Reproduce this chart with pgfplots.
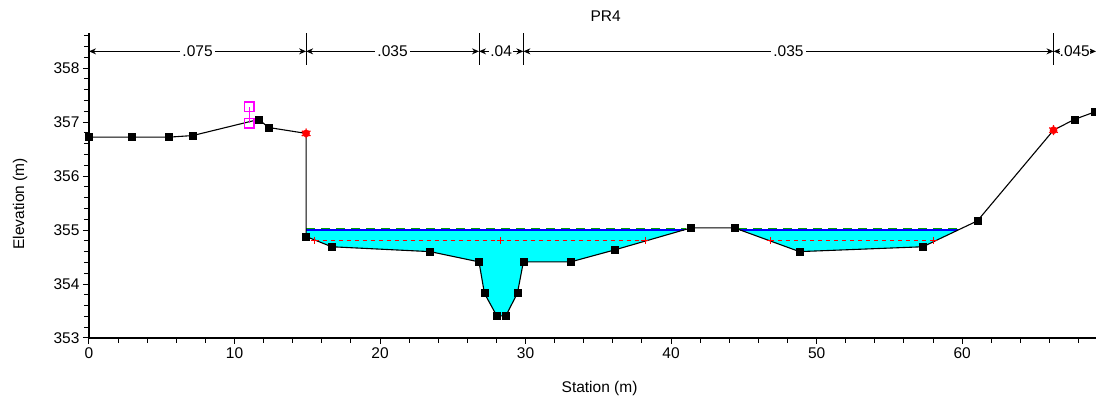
\documentclass[border=0pt]{standalone}
\usepackage{pgfplots}
\pgfplotsset{compat=1.18}
\usepackage{fontspec}
\setmainfont{Liberation Sans}
\usetikzlibrary{plotmarks,arrows.meta}
\definecolor{wscyan}{HTML}{00FFFF}
\definecolor{egreen}{HTML}{00A000}
\definecolor{levee}{HTML}{FF00FF}
\begin{document}
\begin{tikzpicture}[x=1pt,y=1pt]
\useasboundingbox (-89,-63) rectangle (1007,338);
\begin{axis}[
  scale only axis, width=1007pt, height=305pt,
  xmin=0, xmax=69.2, ymin=353, ymax=358.65,
  axis lines*=left,
  axis line style={line width=1.1pt, black},
  tick align=outside,
  xtick={0,10,20,30,40,50,60}, ytick={353,354,355,356,357,358},
  minor xtick={2,4,6,8,12,14,16,18,22,24,26,28,32,34,36,38,42,44,46,48,52,54,56,58,62,64,66,68},
  minor ytick={353.2,353.4,353.6,353.8,354.2,354.4,354.6,354.8,355.2,355.4,355.6,355.8,356.2,356.4,356.6,356.8,357.2,357.4,357.6,357.8,358.2,358.4,358.6},
  major tick length=6pt, minor tick length=5pt,
  every tick/.style={black, line width=1pt},
  font=\fontsize{15.5}{18}\selectfont,
  /pgf/number format/assume math mode=true,
  /pgf/number format/set thousands separator={},
  xlabel={Station (m)}, ylabel={Elevation (m)}, title={PR4},
  title style={at={(axis description cs:0.513,1.037)}, anchor=center, inner sep=0pt},
  xlabel style={at={(axis description cs:0.507,-0.164)}, anchor=center, inner sep=0pt},
  ylabel style={at={(axis description cs:-0.0685,0.44)}, anchor=center, inner sep=0pt},
  clip=false,
]
% water (WS) fill, left pool
\addplot[fill=wscyan, draw=none] coordinates {
  (14.92,355.0) (40.86,355.0) (36.1,354.63) (33.1,354.41) (29.85,354.41)
  (29.44,353.83) (28.64,353.41) (28.02,353.41) (27.17,353.83) (26.8,354.41)
  (23.44,354.60) (16.68,354.69) (14.92,354.88) } -- cycle;
% water fill, right pool
\addplot[fill=wscyan, draw=none] coordinates {
  (44.76,355.0) (59.72,355.0) (57.3,354.69) (48.82,354.60) } -- cycle;
% critical WS (red dashed)
\addplot[red, line width=0.8pt, dash pattern=on 4pt off 4pt] coordinates {(15.5,354.81) (38.2,354.81)};
\addplot[red, line width=0.8pt, dash pattern=on 4pt off 4pt] coordinates {(46.8,354.81) (58.0,354.81)};
\addplot[only marks, red, mark=+, mark size=3.5pt, line width=0.8pt] coordinates {(15.5,354.81) (28.3,354.81) (38.2,354.81) (46.8,354.81) (58.0,354.81)};
% WS (blue)
\addplot[blue, line width=1.4pt] coordinates {(14.92,355.0) (40.86,355.0)};
\addplot[blue, line width=1.4pt] coordinates {(44.76,355.0) (59.72,355.0)};
% EG (green dashed)
\addplot[egreen, line width=1.2pt, dash pattern=on 9pt off 6pt] coordinates {(14.92,355.035) (41.0,355.035)};
\addplot[egreen, line width=1.2pt, dash pattern=on 9pt off 6pt] coordinates {(44.6,355.035) (59.9,355.035)};
% ground
\addplot[black, line width=1.1pt] coordinates {
  (0,356.72) (2.93,356.72) (5.45,356.72) (7.13,356.75) (11.68,357.05) (12.32,356.90)
  (14.92,356.79) (14.92,354.88) (16.68,354.69) (23.44,354.60) (26.8,354.41)
  (27.17,353.83) (28.02,353.41) (28.64,353.41) (29.44,353.83) (29.85,354.41)
  (33.1,354.41) (36.1,354.63) (41.37,355.04) (44.35,355.04) (48.82,354.60)
  (57.3,354.69) (61.05,355.17) (66.28,356.85) (67.72,357.05) (69.14,357.19) };
\addplot[only marks, black, mark=square*, mark size=3.5pt] coordinates {
  (0,356.72) (2.93,356.72) (5.45,356.72) (7.13,356.75) (11.68,357.05) (12.32,356.90)
  (14.92,354.88) (16.68,354.69) (23.44,354.60) (26.8,354.41)
  (27.17,353.83) (28.02,353.41) (28.64,353.41) (29.44,353.83) (29.85,354.41)
  (33.1,354.41) (36.1,354.63) (41.37,355.04) (44.35,355.04) (48.82,354.60)
  (57.3,354.69) (61.05,355.17) (67.72,357.05) (69.14,357.19) };
% bank stations
\addplot[only marks, red, mark=*, mark size=3.6pt, mark options={fill=red, draw=red}] coordinates {(14.92,356.79) (66.28,356.85)};
\addplot[only marks, red, mark=asterisk, mark size=5pt, mark options={line width=1.2pt}] coordinates {(14.92,356.79) (66.28,356.85)};
% levee marker
\addplot[levee, line width=1.1pt, mark=square, mark size=4.8pt, mark options={solid, line width=1.4pt}] coordinates {(11.0,356.98) (11.0,357.28)};
% Manning's n regions
\pgfplotsinvokeforeach{0,14.92,26.8,29.85,66.28}{
  \draw[black, line width=1pt] (axis cs:#1,358.06) -- (axis cs:#1,358.65);
}
\tikzset{nreg/.style={black, line width=1.1pt, {Stealth[length=7pt,width=6pt]}-{Stealth[length=7pt,width=6pt]}}}
\draw[nreg] (axis cs:0,358.31) -- (axis cs:14.92,358.31) node[midway, fill=white, inner xsep=2pt, inner ysep=0pt]{.075};
\draw[nreg] (axis cs:14.92,358.31) -- (axis cs:26.8,358.31) node[midway, fill=white, inner xsep=2pt, inner ysep=0pt]{.035};
\draw[nreg] (axis cs:26.8,358.31) -- (axis cs:29.85,358.31) node[midway, fill=white, inner xsep=1pt, inner ysep=0pt]{.04};
\draw[nreg] (axis cs:29.85,358.31) -- (axis cs:66.28,358.31) node[midway, fill=white, inner xsep=2pt, inner ysep=0pt]{.035};
\draw[nreg] (axis cs:66.28,358.31) -- (axis cs:69.2,358.31) node[midway, fill=white, inner xsep=0pt, inner ysep=0pt]{.045};
\end{axis}
\end{tikzpicture}
\end{document}
